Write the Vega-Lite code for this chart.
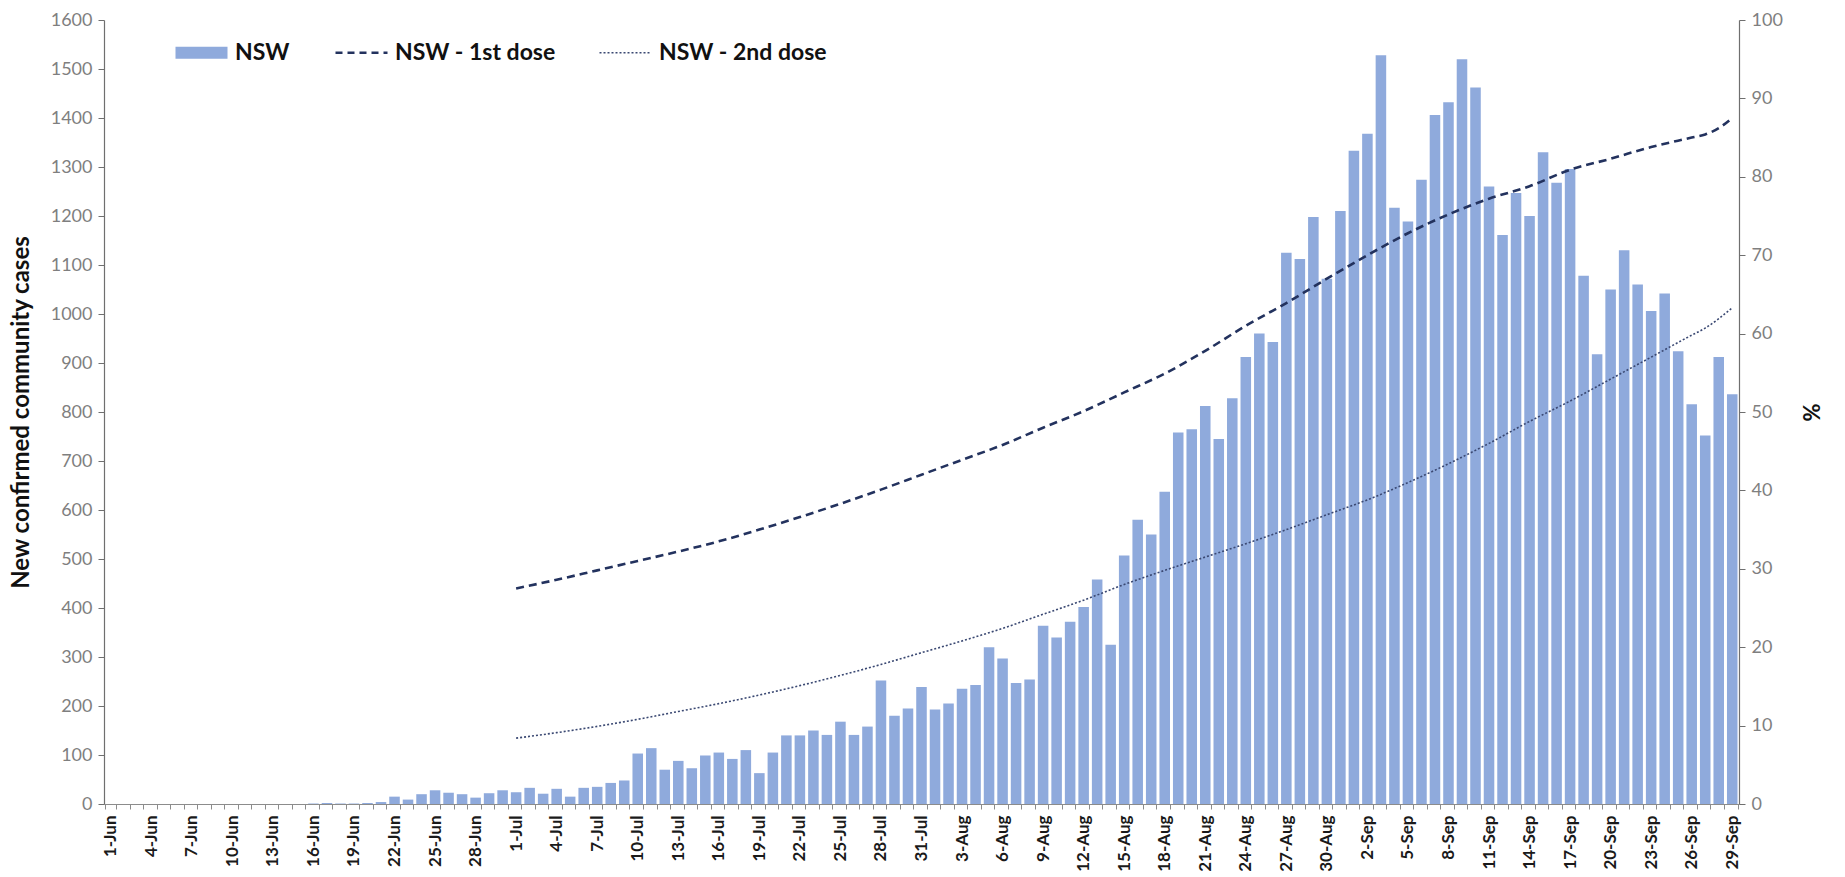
{
  "$schema": "https://vega.github.io/schema/vega-lite/v6.json",
  "width": 1635,
  "height": 784,
  "autosize": {"type": "none"},
  "padding": {"left": 104, "top": 20, "right": 106, "bottom": 73},
  "background": "white",
  "config": {"view": {"stroke": null}, "font": "Lato", "axis": {"grid": false}},
  "datasets": {
    "cases": [
      {"date": "1-Jun", "cases": 0}, {"date": "2-Jun", "cases": 0}, {"date": "3-Jun", "cases": 0}, {"date": "4-Jun", "cases": 0}, {"date": "5-Jun", "cases": 0},
      {"date": "6-Jun", "cases": 0}, {"date": "7-Jun", "cases": 0}, {"date": "8-Jun", "cases": 0}, {"date": "9-Jun", "cases": 0}, {"date": "10-Jun", "cases": 0},
      {"date": "11-Jun", "cases": 0}, {"date": "12-Jun", "cases": 0}, {"date": "13-Jun", "cases": 0}, {"date": "14-Jun", "cases": 0}, {"date": "15-Jun", "cases": 0},
      {"date": "16-Jun", "cases": 1}, {"date": "17-Jun", "cases": 2}, {"date": "18-Jun", "cases": 1}, {"date": "19-Jun", "cases": 1}, {"date": "20-Jun", "cases": 2},
      {"date": "21-Jun", "cases": 4}, {"date": "22-Jun", "cases": 15}, {"date": "23-Jun", "cases": 9}, {"date": "24-Jun", "cases": 20}, {"date": "25-Jun", "cases": 28},
      {"date": "26-Jun", "cases": 23}, {"date": "27-Jun", "cases": 20}, {"date": "28-Jun", "cases": 13}, {"date": "29-Jun", "cases": 22}, {"date": "30-Jun", "cases": 28},
      {"date": "1-Jul", "cases": 24}, {"date": "2-Jul", "cases": 33}, {"date": "3-Jul", "cases": 21}, {"date": "4-Jul", "cases": 31}, {"date": "5-Jul", "cases": 15},
      {"date": "6-Jul", "cases": 33}, {"date": "7-Jul", "cases": 35}, {"date": "8-Jul", "cases": 43}, {"date": "9-Jul", "cases": 48}, {"date": "10-Jul", "cases": 103},
      {"date": "11-Jul", "cases": 114}, {"date": "12-Jul", "cases": 70}, {"date": "13-Jul", "cases": 88}, {"date": "14-Jul", "cases": 73}, {"date": "15-Jul", "cases": 99},
      {"date": "16-Jul", "cases": 105}, {"date": "17-Jul", "cases": 92}, {"date": "18-Jul", "cases": 110}, {"date": "19-Jul", "cases": 63}, {"date": "20-Jul", "cases": 105},
      {"date": "21-Jul", "cases": 140}, {"date": "22-Jul", "cases": 140}, {"date": "23-Jul", "cases": 150}, {"date": "24-Jul", "cases": 141}, {"date": "25-Jul", "cases": 168},
      {"date": "26-Jul", "cases": 141}, {"date": "27-Jul", "cases": 158}, {"date": "28-Jul", "cases": 252}, {"date": "29-Jul", "cases": 180}, {"date": "30-Jul", "cases": 195},
      {"date": "31-Jul", "cases": 239}, {"date": "1-Aug", "cases": 193}, {"date": "2-Aug", "cases": 205}, {"date": "3-Aug", "cases": 235}, {"date": "4-Aug", "cases": 243},
      {"date": "5-Aug", "cases": 320}, {"date": "6-Aug", "cases": 297}, {"date": "7-Aug", "cases": 247}, {"date": "8-Aug", "cases": 254}, {"date": "9-Aug", "cases": 364},
      {"date": "10-Aug", "cases": 340}, {"date": "11-Aug", "cases": 372}, {"date": "12-Aug", "cases": 402}, {"date": "13-Aug", "cases": 458}, {"date": "14-Aug", "cases": 325},
      {"date": "15-Aug", "cases": 507}, {"date": "16-Aug", "cases": 580}, {"date": "17-Aug", "cases": 550}, {"date": "18-Aug", "cases": 637}, {"date": "19-Aug", "cases": 758},
      {"date": "20-Aug", "cases": 765}, {"date": "21-Aug", "cases": 812}, {"date": "22-Aug", "cases": 745}, {"date": "23-Aug", "cases": 828}, {"date": "24-Aug", "cases": 912},
      {"date": "25-Aug", "cases": 960}, {"date": "26-Aug", "cases": 943}, {"date": "27-Aug", "cases": 1125}, {"date": "28-Aug", "cases": 1112}, {"date": "29-Aug", "cases": 1198},
      {"date": "30-Aug", "cases": 1072}, {"date": "31-Aug", "cases": 1210}, {"date": "1-Sep", "cases": 1333}, {"date": "2-Sep", "cases": 1368}, {"date": "3-Sep", "cases": 1528},
      {"date": "4-Sep", "cases": 1217}, {"date": "5-Sep", "cases": 1189}, {"date": "6-Sep", "cases": 1274}, {"date": "7-Sep", "cases": 1406}, {"date": "8-Sep", "cases": 1432},
      {"date": "9-Sep", "cases": 1520}, {"date": "10-Sep", "cases": 1462}, {"date": "11-Sep", "cases": 1260}, {"date": "12-Sep", "cases": 1161}, {"date": "13-Sep", "cases": 1247},
      {"date": "14-Sep", "cases": 1200}, {"date": "15-Sep", "cases": 1330}, {"date": "16-Sep", "cases": 1268}, {"date": "17-Sep", "cases": 1296}, {"date": "18-Sep", "cases": 1078},
      {"date": "19-Sep", "cases": 918}, {"date": "20-Sep", "cases": 1050}, {"date": "21-Sep", "cases": 1130}, {"date": "22-Sep", "cases": 1060}, {"date": "23-Sep", "cases": 1006},
      {"date": "24-Sep", "cases": 1042}, {"date": "25-Sep", "cases": 924}, {"date": "26-Sep", "cases": 816}, {"date": "27-Sep", "cases": 752}, {"date": "28-Sep", "cases": 912},
      {"date": "29-Sep", "cases": 836}
    ],
    "doses": [
      {"date": "1-Jul", "first": 27.5, "second": 8.4}, {"date": "4-Jul", "first": 28.6, "second": 9.1}, {"date": "7-Jul", "first": 29.8, "second": 9.9},
      {"date": "10-Jul", "first": 31.0, "second": 10.8}, {"date": "13-Jul", "first": 32.2, "second": 11.8}, {"date": "16-Jul", "first": 33.5, "second": 12.8},
      {"date": "19-Jul", "first": 35.0, "second": 13.9}, {"date": "22-Jul", "first": 36.6, "second": 15.1}, {"date": "25-Jul", "first": 38.3, "second": 16.4},
      {"date": "28-Jul", "first": 40.1, "second": 17.8}, {"date": "31-Jul", "first": 42.0, "second": 19.3}, {"date": "3-Aug", "first": 43.9, "second": 20.8},
      {"date": "6-Aug", "first": 45.8, "second": 22.4}, {"date": "9-Aug", "first": 48.0, "second": 24.2}, {"date": "12-Aug", "first": 50.1, "second": 26.0},
      {"date": "15-Aug", "first": 52.5, "second": 28.0}, {"date": "18-Aug", "first": 54.9, "second": 29.8}, {"date": "21-Aug", "first": 57.8, "second": 31.5},
      {"date": "24-Aug", "first": 61.0, "second": 33.2}, {"date": "27-Aug", "first": 63.9, "second": 35.0}, {"date": "30-Aug", "first": 67.0, "second": 36.9},
      {"date": "2-Sep", "first": 70.0, "second": 38.8}, {"date": "5-Sep", "first": 72.8, "second": 41.0}, {"date": "8-Sep", "first": 75.2, "second": 43.4},
      {"date": "11-Sep", "first": 77.2, "second": 46.0}, {"date": "14-Sep", "first": 78.8, "second": 48.8}, {"date": "17-Sep", "first": 80.9, "second": 51.4},
      {"date": "20-Sep", "first": 82.3, "second": 54.2}, {"date": "23-Sep", "first": 83.8, "second": 57.0}, {"date": "26-Sep", "first": 85.0, "second": 59.8},
      {"date": "27-Sep", "first": 85.4, "second": 60.7}, {"date": "28-Sep", "first": 86.2, "second": 61.9}, {"date": "29-Sep", "first": 87.5, "second": 63.3}
    ]
  },
  "layer": [
    {
      "data": {"name": "cases"},
      "mark": {"type": "bar"},
      "encoding": {
        "x": {
          "field": "date", "type": "ordinal", "sort": null,
          "scale": {
            "paddingInner": 0.22, "paddingOuter": 0.11,
            "domain": ["1-Jun","2-Jun","3-Jun","4-Jun","5-Jun","6-Jun","7-Jun","8-Jun","9-Jun","10-Jun","11-Jun","12-Jun","13-Jun","14-Jun","15-Jun","16-Jun","17-Jun","18-Jun","19-Jun","20-Jun","21-Jun","22-Jun","23-Jun","24-Jun","25-Jun","26-Jun","27-Jun","28-Jun","29-Jun","30-Jun",
              "1-Jul","2-Jul","3-Jul","4-Jul","5-Jul","6-Jul","7-Jul","8-Jul","9-Jul","10-Jul","11-Jul","12-Jul","13-Jul","14-Jul","15-Jul","16-Jul","17-Jul","18-Jul","19-Jul","20-Jul","21-Jul","22-Jul","23-Jul","24-Jul","25-Jul","26-Jul","27-Jul","28-Jul","29-Jul","30-Jul","31-Jul",
              "1-Aug","2-Aug","3-Aug","4-Aug","5-Aug","6-Aug","7-Aug","8-Aug","9-Aug","10-Aug","11-Aug","12-Aug","13-Aug","14-Aug","15-Aug","16-Aug","17-Aug","18-Aug","19-Aug","20-Aug","21-Aug","22-Aug","23-Aug","24-Aug","25-Aug","26-Aug","27-Aug","28-Aug","29-Aug","30-Aug","31-Aug",
              "1-Sep","2-Sep","3-Sep","4-Sep","5-Sep","6-Sep","7-Sep","8-Sep","9-Sep","10-Sep","11-Sep","12-Sep","13-Sep","14-Sep","15-Sep","16-Sep","17-Sep","18-Sep","19-Sep","20-Sep","21-Sep","22-Sep","23-Sep","24-Sep","25-Sep","26-Sep","27-Sep","28-Sep","29-Sep"]
          },
          "axis": {
            "title": null,
            "labelExpr": "indexof(['1-Jun','4-Jun','7-Jun','10-Jun','13-Jun','16-Jun','19-Jun','22-Jun','25-Jun','28-Jun','1-Jul','4-Jul','7-Jul','10-Jul','13-Jul','16-Jul','19-Jul','22-Jul','25-Jul','28-Jul','31-Jul','3-Aug','6-Aug','9-Aug','12-Aug','15-Aug','18-Aug','21-Aug','24-Aug','27-Aug','30-Aug','2-Sep','5-Sep','8-Sep','11-Sep','14-Sep','17-Sep','20-Sep','23-Sep','26-Sep','29-Sep'], datum.value) >= 0 ? datum.value : ''",
            "labelAngle": 270, "labelAlign": "right", "labelBaseline": "middle",
            "labelFontSize": 17, "labelFontWeight": "bold", "labelColor": "#1a1a1a",
            "labelOverlap": false, "labelPadding": 6,
            "tickBand": "extent", "tickSize": 5, "tickColor": "#8c8c8c",
            "domainColor": "#8c8c8c", "domainWidth": 1.2
          }
        },
        "y": {
          "field": "cases", "type": "quantitative",
          "scale": {"domain": [0, 1600], "nice": false},
          "axis": {
            "title": "New confirmed community cases",
            "format": "d",
            "values": [0,100,200,300,400,500,600,700,800,900,1000,1100,1200,1300,1400,1500,1600],
            "labelFontSize": 18, "labelColor": "#7f7f7f", "labelPadding": 6,
            "tickSize": 6, "tickColor": "#6f6f6f", "domainColor": "#6f6f6f", "domainWidth": 1.2,
            "titleFontSize": 24, "titleFontWeight": "bold", "titleColor": "#111111",
            "titleX": -83, "titleY": 392, "titleAngle": 270, "titleAlign": "center", "titleBaseline": "middle"
          }
        },
        "color": {
          "datum": "NSW", "type": "nominal",
          "scale": {"domain": ["NSW", "NSW - 1st dose", "NSW - 2nd dose"], "range": ["#8FAADC", "#23325E", "#3A4872"]},
          "legend": {
            "title": null, "orient": "none", "legendX": 86, "legendY": 21,
            "direction": "horizontal", "columns": 3, "columnPadding": 40,
            "symbolSize": 2704, "labelOffset": 22, "labelLimit": 500,
            "labelFontSize": 23, "labelFontWeight": "bold", "labelColor": "#111111",
            "encode": {
              "symbols": {
                "update": {
                  "shape": {"signal": "datum.value === 'NSW' ? 'M-1,-0.23H1V0.23H-1Z' : 'stroke'"},
                  "fill": {"signal": "datum.value === 'NSW' ? '#8FAADC' : 'transparent'"},
                  "stroke": {"signal": "datum.value === 'NSW' ? 'transparent' : (datum.value === 'NSW - 1st dose' ? '#23325E' : '#3A4872')"},
                  "strokeWidth": {"signal": "datum.value === 'NSW' ? 0 : (datum.value === 'NSW - 1st dose' ? 2.5 : 1.6)"},
                  "strokeDash": {"signal": "datum.value === 'NSW - 1st dose' ? [7, 5] : [2, 2]"},
                  "opacity": {"value": 1}
                }
              }
            }
          }
        }
      }
    },
    {
      "data": {"name": "doses"},
      "layer": [
        {
          "mark": {"type": "line", "strokeDash": [8, 5], "strokeWidth": 2.6, "interpolate": "monotone"},
          "encoding": {
            "x": {"field": "date", "type": "ordinal", "sort": null},
            "y": {
              "field": "first", "type": "quantitative",
              "scale": {"domain": [0, 100], "nice": false},
              "axis": {
                "orient": "right", "title": "%",
                "values": [0,10,20,30,40,50,60,70,80,90,100],
                "labelFontSize": 18, "labelColor": "#7f7f7f", "labelPadding": 6,
                "tickSize": 6, "tickColor": "#6f6f6f", "domainColor": "#6f6f6f", "domainWidth": 1.2,
                "titleFontSize": 22, "titleFontWeight": "bold", "titleColor": "#111111",
                "titleX": 73, "titleY": 392, "titleAngle": 270, "titleAlign": "center", "titleBaseline": "middle"
              }
            },
            "color": {"datum": "NSW - 1st dose", "type": "nominal"}
          }
        },
        {
          "mark": {"type": "line", "strokeDash": [2, 2], "strokeWidth": 1.6, "interpolate": "monotone"},
          "encoding": {
            "x": {"field": "date", "type": "ordinal", "sort": null},
            "y": {"field": "second", "type": "quantitative", "scale": {"domain": [0, 100], "nice": false}},
            "color": {"datum": "NSW - 2nd dose", "type": "nominal"}
          }
        }
      ]
    }
  ],
  "resolve": {"scale": {"y": "independent"}, "axis": {"y": "independent"}}
}
